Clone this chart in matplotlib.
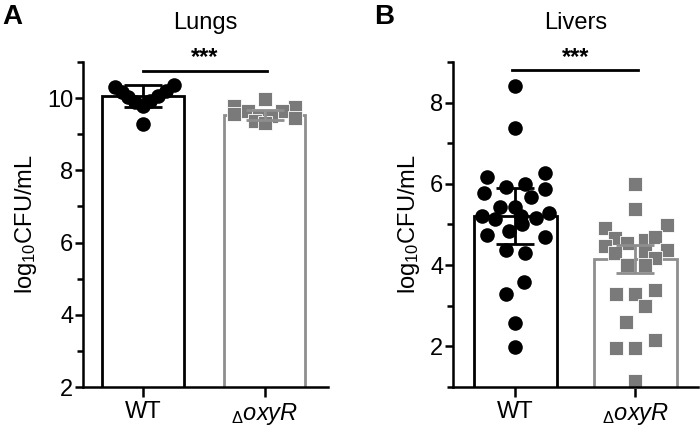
import matplotlib.pyplot as plt
import numpy as np
from matplotlib.ticker import MultipleLocator

plt.rcParams['font.family'] = ['Liberation Sans', 'DejaVu Sans']
plt.rcParams['mathtext.fontset'] = 'custom'
plt.rcParams['mathtext.rm'] = 'Liberation Sans'
plt.rcParams['mathtext.it'] = 'Liberation Sans:italic'

groups = ['WT', r'$_{\Delta}\mathit{oxyR}$']

# panel A - lungs
lung_wt = [10.30, 10.35, 10.16, 10.21, 10.02, 10.07, 9.88, 9.92, 9.78, 9.27]
lung_wt_dx = [-0.23, 0.26, -0.17, 0.19, -0.12, 0.125, -0.065, 0.06, 0.0, 0.0]
lung_ko = [9.97, 9.78, 9.74, 9.64, 9.64, 9.50, 9.50, 9.36, 9.32, 9.55, 9.46]
lung_ko_dx = [0.0, -0.25, 0.25, -0.14, 0.14, -0.05, 0.05, -0.08, 0.0, -0.25, 0.25]
lung_mean = [10.05, 9.52]
lung_err = [0.30, 0.14]

# panel B - livers
liver_wt = [8.4, 7.38, 6.17, 6.27, 5.93, 6.0, 5.78, 5.87, 5.68, 5.43, 5.43,
            5.2, 5.13, 5.2, 5.16, 5.28, 4.84, 5.0, 4.74, 4.7, 4.37, 4.3,
            3.58, 3.28, 2.57, 1.98]
liver_wt_dx = [0, 0, -0.24, 0.25, -0.08, 0.08, -0.26, 0.25, 0.13, -0.13, 0,
               -0.28, -0.17, 0.05, 0.17, 0.28, -0.05, 0.055, -0.24, 0.25, -0.08, 0.08,
               0.07, -0.08, 0, 0]
liver_ko = [6.0, 5.38, 4.91, 4.99, 4.66, 4.54, 4.62, 4.70, 4.46, 4.37,
            4.30, 4.33, 4.17, 4.0, 4.0, 3.28, 3.30, 3.38, 2.99, 2.59,
            1.97, 1.97, 2.15, 1.16]
liver_ko_dx = [0, 0, -0.25, 0.26, -0.17, -0.07, 0.08, 0.16, -0.25, 0.26,
               -0.17, 0.08, 0.16, -0.07, 0.08, -0.16, 0, 0.16, 0.08, -0.08,
               -0.16, 0, 0.16, 0]
liver_mean = [5.21, 4.15]
liver_err = [0.69, 0.35]

black = 'black'
gray = '#7a7a7a'
graybar = '#8e8e8e'
fs = 17

fig = plt.figure(figsize=(7, 4.29), dpi=100)
axA = fig.add_axes([0.1186, 0.0979, 0.35, 0.7576])
axB = fig.add_axes([0.647, 0.0979, 0.35, 0.7576])


def draw(ax, wt, wt_dx, ko, ko_dx, means, errs, width):
    ax.bar([0, 1], means, width=width, color='white', edgecolor=[black, graybar],
           linewidth=2, zorder=1)
    ax.plot(np.array(wt_dx), wt, 'o', color=black, markersize=10.5, markeredgewidth=0,
            zorder=2, clip_on=False)
    ax.plot(1 + np.array(ko_dx), ko, 's', color=gray, markersize=10,
            markeredgecolor='white', markeredgewidth=0.6, zorder=2, clip_on=False)
    ax.errorbar([0], [means[0]], yerr=[errs[0]], fmt='none', ecolor=black,
                elinewidth=2, capsize=14, capthick=2, zorder=3)
    ax.errorbar([1], [means[1]], yerr=[errs[1]], fmt='none', ecolor=graybar,
                elinewidth=2, capsize=14, capthick=2, zorder=3)
    ax.set_xticks([0, 1])
    ax.set_xticklabels(groups, fontsize=fs)
    ax.spines['top'].set_visible(False)
    ax.spines['right'].set_visible(False)
    ax.spines['left'].set_linewidth(1.8)
    ax.spines['bottom'].set_linewidth(1.8)
    ax.tick_params(axis='y', which='major', length=6, width=1.8, labelsize=fs, pad=1)
    ax.tick_params(axis='y', which='minor', length=4, width=1.8)
    ax.tick_params(axis='x', length=7, width=1.8, labelsize=fs, pad=3)
    ax.set_ylabel(r'log$_{10}$CFU/mL', fontsize=fs, labelpad=6)


draw(axA, lung_wt, lung_wt_dx, lung_ko, lung_ko_dx, lung_mean, lung_err, 0.67)
axA.set_xlim(-0.49, 1.52)
axA.set_ylim(2, 11)
axA.set_yticks([2, 4, 6, 8, 10])
axA.yaxis.set_minor_locator(MultipleLocator(1))
axA.plot([0, 1.02], [10.75, 10.75], color=black, linewidth=2, clip_on=False)
axA.text(0.51, 11.12, '***', ha='center', va='center', fontsize=fs, fontweight='bold',
         clip_on=False)
axA.set_title('Lungs', fontsize=fs, pad=24)

draw(axB, liver_wt, liver_wt_dx, liver_ko, liver_ko_dx, liver_mean, liver_err, 0.686)
axB.set_xlim(-0.52, 1.52)
axB.set_ylim(1, 9)
axB.set_yticks([2, 4, 6, 8])
axB.yaxis.set_minor_locator(MultipleLocator(1))
axB.plot([-0.03, 1.02], [8.8, 8.8], color=black, linewidth=2, clip_on=False)
axB.text(0.5, 9.11, '***', ha='center', va='center', fontsize=fs, fontweight='bold',
         clip_on=False)
axB.set_title('Livers', fontsize=fs, pad=24)

fig.text(0.003, 0.99, 'A', fontsize=20, fontweight='bold', va='top', ha='left')
fig.text(0.535, 0.99, 'B', fontsize=20, fontweight='bold', va='top', ha='left')

fig.savefig('out.png', dpi=100)
